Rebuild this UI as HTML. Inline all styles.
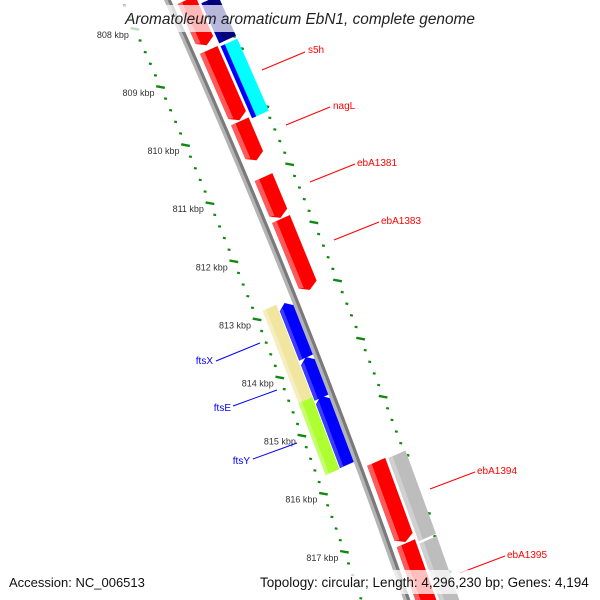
<!DOCTYPE html>
<html><head><meta charset="utf-8"><style>
html,body{margin:0;padding:0;background:#fff;width:600px;height:600px;overflow:hidden;}
svg{display:block;font-family:"Liberation Sans",sans-serif;}
</style></head><body>
<svg id="map" width="600" height="600" viewBox="0 0 600 600" overflow="hidden">
<g id="rings"></g>
<g id="backbone"></g>
<g id="genes"></g>
<g id="labels"></g>
<rect x="116" y="5" width="370" height="27" fill="#fff" fill-opacity="0.72"/>
<text x="300" y="24" text-anchor="middle" font-size="15.4" font-style="italic" fill="#222">Aromatoleum aromaticum EbN1, complete genome</text>
<rect x="4" y="570" width="142" height="24" fill="#fff" fill-opacity="0.75"/>
<text x="9" y="587" font-size="13" fill="#111">Accession: NC_006513</text>
<rect x="256" y="570" width="340" height="24" fill="#fff" fill-opacity="0.75"/>
<text x="260" y="587" font-size="13.5" fill="#111">Topology: circular; Length: 4,296,230 bp; Genes: 4,194</text>
</svg>
<script>
const redStarts=[807.28,808.14,809.37,810.33,811.05,815.23,816.63];
const redEnds=[808.06,809.35,810.04,811.03,812.27,816.61,817.95];
const outerStarts=[807.19,807.93,815.02,816.49];
const outerEnds=[807.88,809.17,816.45,817.86];
const outerColors=["navy","cyan","grey","grey"];
const revStarts=[812.60,813.53,814.20];
const revEnds=[813.54,814.23,815.39];
const khakiStarts=[812.74,814.33];
const khakiEnds=[814.33,815.57];
const khakiColors=["#f0e6a0","#adff2f"];
const tickKbp=[808,809,810,811,812,813,814,815,816,817];

const NS="http://www.w3.org/2000/svg";
function C(y){return 0.45*y-8.5e-5*y*y;}
function yOf(k,x0){return 87+(k-809)*58.1+0.2*(x0-122);}
function pt(k,x0){const y=yOf(k,x0);return [x0+C(y),y];}
function gpt(k,x0,xm){const y=87+(k-809)*58.1+0.2*(xm-122)-0.38*(x0-xm);return [x0+C(y),y];}
function mk(tag,attrs,parent){const e=document.createElementNS(NS,tag);for(const a in attrs)e.setAttribute(a,attrs[a]);parent.appendChild(e);return e;}
const rings=document.getElementById('rings');
const bb=document.getElementById('backbone');
const genes=document.getElementById('genes');

[122,218].forEach(function(r){
  for(let i=0;i<=60;i++){
    const k=807.2+i*0.2;
    const major=Math.abs(k-Math.round(k))<0.01;
    const w=major?4:1.3;
    const a=pt(k,r-w),b=pt(k,r+w);
    const t=mk('line',{x1:a[0],y1:a[1],x2:b[0],y2:b[1],stroke:'#118811','stroke-width':major?2.4:2.2},rings);
    
    
  }
});
tickKbp.forEach(function(k){
  const p=pt(k,122);
  const t=mk('text',{x:p[0]-6,y:p[1]+9,'text-anchor':'end','font-size':9,fill:'#333'},rings);
  t.textContent=k+' kbp';
  
  
});

function band(k1,k2,xa,xb){const pts=[];const n=40;for(let i=0;i<=n;i++){pts.push(pt(k1+(k2-k1)*i/n,xa));}for(let i=n;i>=0;i--){pts.push(pt(k1+(k2-k1)*i/n,xb));}return pts.map(p=>p.join(',')).join(' ');}
let bl=mk('polygon',{points:band(807,818.4,164,167.5),fill:'#b4b4b4'},bb);


let bd=mk('polygon',{points:band(807,818.4,167.5,171),fill:'#7a7a7a'},bb);



function gene(k1,k2,xa,xb,color,light,dir,name,arrow){
  const tip=arrow?0.09:0;
  const xm=(xa+xb)/2;
  const P=(k,x)=>gpt(k,x,xm);
  let pts;
  if(dir>0){pts=[P(k1,xa),P(k2-tip,xa),P(k2,xm),P(k2-tip,xb),P(k1,xb)];}
  else{pts=[P(k1+tip,xa),P(k2,xa),P(k2,xb),P(k1+tip,xb),P(k1,xm)];}
  const g=mk('polygon',{points:pts.map(p=>p.join(',')).join(' '),fill:color},genes);
  
  
  const xl=xa+(xb-xa)*0.25;
  let hp;
  if(dir>0){hp=[P(k1,xa),P(k2-tip,xa),P(k2-tip*0.75,xl),P(k1,xl)];}
  else{hp=[P(k1+tip,xa),P(k2,xa),P(k2,xl),P(k1+tip*0.75,xl)];}
  const h=mk('polygon',{points:hp.map(p=>p.join(',')).join(' '),fill:light},genes);
  
  
}
redStarts.forEach((s,i)=>gene(s,redEnds[i],176,197,'#ff0000','#ff5a5a',1,'forward-gene',true));
outerStarts.forEach((s,i)=>{
  const c=outerColors[i];
  if(c==='cyan'){gene(s,outerEnds[i],200,220,'#00ffff','#0000ff',1,'outer-gene',false);}
  else if(c==='navy'){gene(s,outerEnds[i],200,220,'#00007a','#0000aa',1,'outer-gene',false);}
  else gene(s,outerEnds[i],200,220,'#bdbdbd','#d0d0d0',1,'outer-gene',false);
});
revStarts.forEach((s,i)=>gene(s,revEnds[i],148,164,'#0000ff','#3c3cff',-1,'reverse-gene',true));
khakiStarts.forEach((s,i)=>gene(s,khakiEnds[i],131,147,khakiColors[i],i===0?'#f4eec0':'#c4ff70',-1,'outer-reverse-gene',false));

const labelText=["s5h","nagL","ebA1381","ebA1383","ebA1394","ebA1395","ftsX","ftsE","ftsY"];
const lbl=document.getElementById('labels');
const L=[[262,70,305,52,308,53,'start','#ff0000'],[286,125,330,107,333,109,'start','#ff0000'],[310,182,355,164,357,166,'start','#ff0000'],[334,240,379,222,381,224,'start','#ff0000'],[430,489,475,472,477,474,'start','#ff0000'],[460,573,505,556,507,558,'start','#ff0000'],[260,343,216,361,213,364,'end','#0000ff'],[277,390,233,406,231,411,'end','#0000ff'],[297,443,253,459,250,464,'end','#0000ff']];
L.forEach(function(d,i){
  const l=mk('line',{x1:d[0],y1:d[1],x2:d[2],y2:d[3],stroke:d[7],'stroke-width':1},lbl);
  
  
  const t=mk('text',{x:d[4],y:d[5],'text-anchor':d[6],'font-size':10,fill:d[7]},lbl);
  t.textContent=labelText[i];
  
  
});
</script>
</body></html>
